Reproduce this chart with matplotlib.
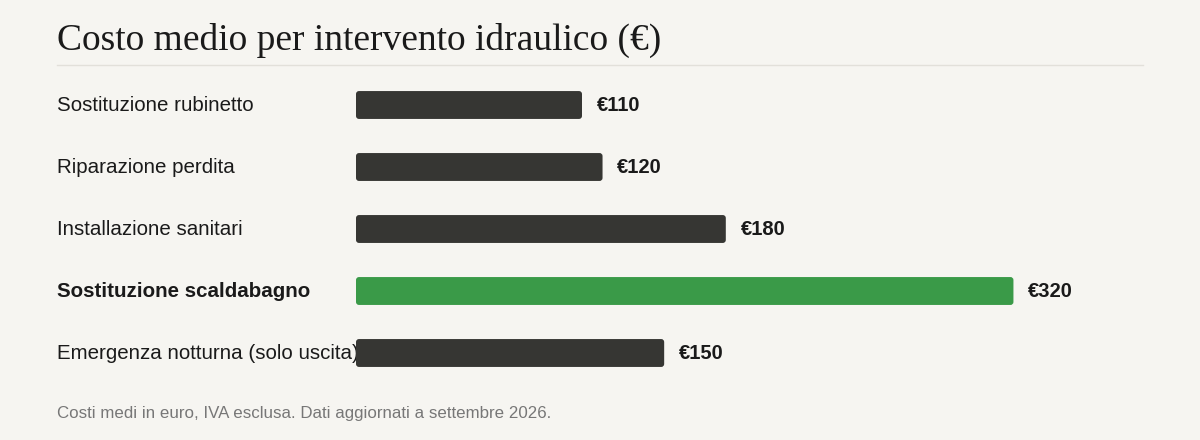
import matplotlib.pyplot as plt
import matplotlib.transforms as mtransforms
from matplotlib.patches import FancyBboxPatch

categories = ["Sostituzione rubinetto", "Riparazione perdita", "Installazione sanitari",
              "Sostituzione scaldabagno", "Emergenza notturna (solo uscita)"]
costs = [110, 120, 180, 320, 150]
highlight = "Sostituzione scaldabagno"
value_labels = ["€110", "€120", "€180", "€320", "€150"]

bg = "#f6f5f1"
dark = "#363633"
green = "#3a9a48"

fig = plt.figure(figsize=(12, 4.4), dpi=100, facecolor=bg)
W, H = 1200, 440

# axes: bars start at x=356px, rows from y=74 to 384px
ax = fig.add_axes([356 / W, 1 - 384 / H, (1143 - 356) / W, 310 / H])
ax.set_facecolor(bg)
xmax = (1143 - 356) / 2.0545
ax.set_xlim(0, xmax)
ax.set_ylim(len(categories) - 0.5, -0.5)
ax.axis("off")

colors = [green if c == highlight else dark for c in categories]
bars = ax.barh(range(len(categories)), costs, height=0.45, color=colors)

# swap plain bars for rounded ones of the same geometry
x_per_px = xmax / (1143 - 356)
y_per_px = len(categories) / 310
for b, c in zip(bars, colors):
    b.set_visible(False)
    rb = FancyBboxPatch((b.get_x(), b.get_y()), b.get_width(), b.get_height(),
                        boxstyle="round,pad=0,rounding_size=%f" % (3 * x_per_px),
                        mutation_aspect=y_per_px / x_per_px, facecolor=c, edgecolor="none",
                        zorder=2)
    ax.add_patch(rb)

label_tr = mtransforms.blended_transform_factory(fig.transFigure, ax.transData)
for i, cat in enumerate(categories):
    ax.text(57 / W, i, cat, transform=label_tr, ha="left", va="center",
            fontsize=14.8, family="Liberation Sans", color="#1a1a1a", zorder=1, clip_on=False,
            fontweight="bold" if cat == highlight else "normal")
    ax.annotate(value_labels[i], (costs[i], i), xytext=(10.5, 0), textcoords="offset points",
                ha="left", va="center", fontsize=14.5, family="Liberation Sans",
                color="#1a1a1a", fontweight="bold")

fig.text(57 / W, 1 - 40 / H, "Costo medio per intervento idraulico (€)", ha="left", va="center",
         fontsize=27, family="Liberation Serif", color="#1a1a1a")
fig.add_artist(plt.Line2D([57 / W, 1143 / W], [1 - 65 / H, 1 - 65 / H], color="#e2e0da", lw=1,
                          transform=fig.transFigure))
fig.text(57 / W, 1 - 413 / H, "Costi medi in euro, IVA esclusa. Dati aggiornati a settembre 2026.",
         ha="left", va="center", fontsize=12.2, family="Liberation Sans", color="#777777")

fig.savefig("out.png", facecolor=bg)
